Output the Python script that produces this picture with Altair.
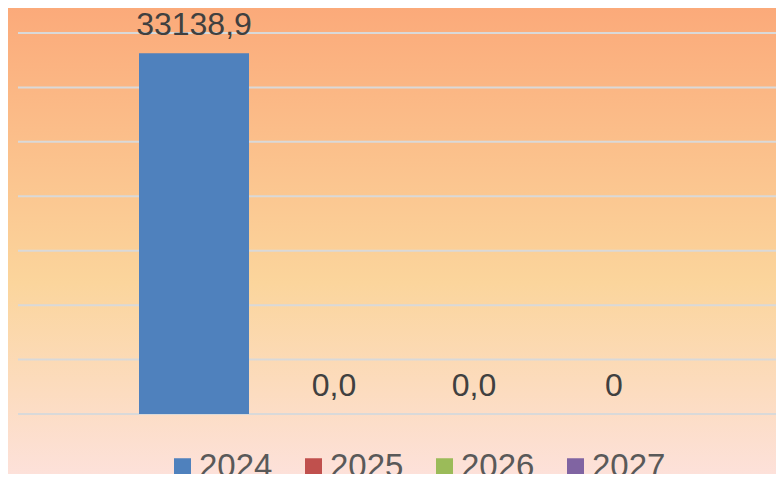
import altair as alt
import pandas as pd

years = ["2024", "2025", "2026", "2027"]
values = [33138.9, 0.0, 0.0, 0.0]
labels = ["33138,9", "0,0", "0,0", "0"]
colors = ["#4F81BD", "#C0504D", "#9BBB59", "#8064A2"]
grid_values = [0, 5000, 10000, 15000, 20000, 25000, 30000, 35000]

W, H = 758, 381
PAD = {"left": 10, "top": 25, "right": 0, "bottom": 60}

df = pd.DataFrame({"year": years, "value": values, "label": labels})
grid_df = pd.DataFrame({"g": grid_values})

yscale = alt.Scale(domain=[0, 35000], nice=False, zero=True)
xscale = alt.Scale(domain=years, paddingInner=0.2143, paddingOuter=0.8143, align=0.5307)

bg = alt.Chart(alt.Data(values=[{}])).mark_rect(
    fill=alt.Gradient(
        gradient="linear",
        x1=0, x2=0, y1=0, y2=1,
        stops=[
            alt.GradientStop(color="#FBAA7A", offset=0),
            alt.GradientStop(color="#FBD59C", offset=0.57),
            alt.GradientStop(color="#FDE2DF", offset=1),
        ],
    )
).encode(
    x=alt.value(-PAD["left"]), x2=alt.value(W + 10),
    y=alt.value(-PAD["top"]), y2=alt.value(H + PAD["bottom"] + 16),
)

grid = alt.Chart(grid_df).mark_rule(color="#D9D9D9", strokeWidth=2).encode(
    y=alt.Y("g:Q", scale=yscale, axis=None),
    x=alt.value(0), x2=alt.value(W),
)

bars = alt.Chart(df).mark_bar().encode(
    x=alt.X("year:N", scale=xscale, axis=None),
    y=alt.Y("value:Q", scale=yscale, axis=None),
    color=alt.Color(
        "year:N",
        scale=alt.Scale(domain=years, range=colors),
        legend=alt.Legend(
            title=None, orient="none", legendX=148, legendY=417,
            direction="horizontal", symbolType="square", symbolSize=289,
            symbolStrokeWidth=0, labelFontSize=33, labelColor="#595959",
            labelFont="Liberation Sans", columnPadding=24, labelOffset=0,
            padding=0,
        ),
    ),
)

text = alt.Chart(df).mark_text(
    font="Liberation Sans", fontSize=32, color="#404040", dy=-18, baseline="alphabetic"
).encode(
    x=alt.X("year:N", scale=xscale, axis=None),
    y=alt.Y("value:Q", scale=yscale, axis=None),
    text="label:N",
)

chart = alt.layer(bg, grid, bars, text).properties(
    width=W, height=H,
    autosize=alt.AutoSizeParams(type="none"),
    padding=PAD,
    background="#FDE2DF",
).configure_view(stroke=None)

chart.save("out.html", embed_options={"renderer": "svg", "actions": False})
